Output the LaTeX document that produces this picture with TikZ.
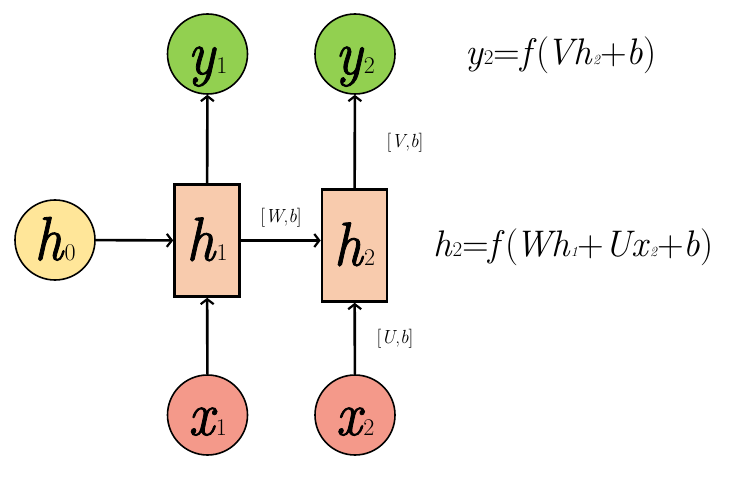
\documentclass[tikz,border=0pt]{standalone}
\usepackage{fontspec}
\usepackage{graphicx}
\newfontface\nodeit{lmroman10-italic}[Extension=.otf,FakeBold=1.4]
\usetikzlibrary{arrows.meta}
\definecolor{ygreen}{HTML}{92D050}
\definecolor{hyellow}{HTML}{FFE699}
\definecolor{hboxc}{HTML}{F8CBAD}
\definecolor{xred}{HTML}{F4998A}
\newcommand{\bigvar}[2]{\scalebox{0.9}[1]{\fontsize{62}{62}\nodeit #1}\,{\fontsize{24}{24}\selectfont #2}}
\newcommand{\sbu}[1]{{\fontsize{21}{21}\selectfont #1}}
\newcommand{\sbi}[1]{{\fontsize{14}{14}\selectfont\itshape #1}}
\begin{document}
\begin{tikzpicture}[x=1pt,y=-1pt,
  circ/.style={circle,draw=black,line width=1.6pt,minimum size=80pt,inner sep=0pt,text height=42pt,text depth=2pt},
  cell/.style={rectangle,draw=black,line width=2.6pt,fill=hboxc,minimum width=65pt,minimum height=112pt,inner sep=0pt,text height=42pt,text depth=2pt},
  conn/.style={line width=2.6pt,-{Straight Barb[length=5pt,width=13pt,line width=2.2pt]}},
  wlabel/.style={font=\fontsize{19}{19}\selectfont},
  eq/.style={anchor=base west,inner sep=0pt,font=\fontsize{37}{37}\selectfont}]
\useasboundingbox (0,0) rectangle (739,481);
\node[circ,fill=hyellow] (h0) at (55,240) {\bigvar{h}{0}};
\node[cell] (h1) at (207,240.5) {\bigvar{h}{1}};
\node[cell] (h2) at (354.5,245.5) {\bigvar{h}{2}};
\node[circ,fill=ygreen] (y1) at (207.5,54) {\bigvar{y}{1}};
\node[circ,fill=ygreen] (y2) at (355,54) {\bigvar{y}{2}};
\node[circ,fill=xred] (x1) at (207.5,415) {\bigvar{x}{1}};
\node[circ,fill=xred] (x2) at (355,415) {\bigvar{x}{2}};
\draw[conn] (h0) -- (h1);
\draw[conn] (h1.east) -- (h1.east -| h2.west);
\draw[conn] (h1) -- (y1);
\draw[conn] (h2) -- (y2);
\draw[conn] (x1) -- (h1);
\draw[conn] (x2) -- (h2);
\node[wlabel] (wb) at (281,218) {[\textit{W},\textit{b}]};
\node[wlabel] (vb) at (405,143) {[\textit{V},\textit{b}]};
\node[wlabel] (ub) at (395,339) {[\textit{U},\textit{b}]};
\node[eq] (eqy) at (465,65) {\textit{y}\sbu{2}=\textit{f}(\kern-3pt\textit{Vh}\sbi{2}+\textit{b})};
\node[eq] (eqh) at (433,257) {\textit{h}\sbu{2}=\textit{f}(\kern-3pt\textit{Wh}\sbi{1}+\textit{Ux}\sbi{2}+\textit{b})};
\end{tikzpicture}
\end{document}
